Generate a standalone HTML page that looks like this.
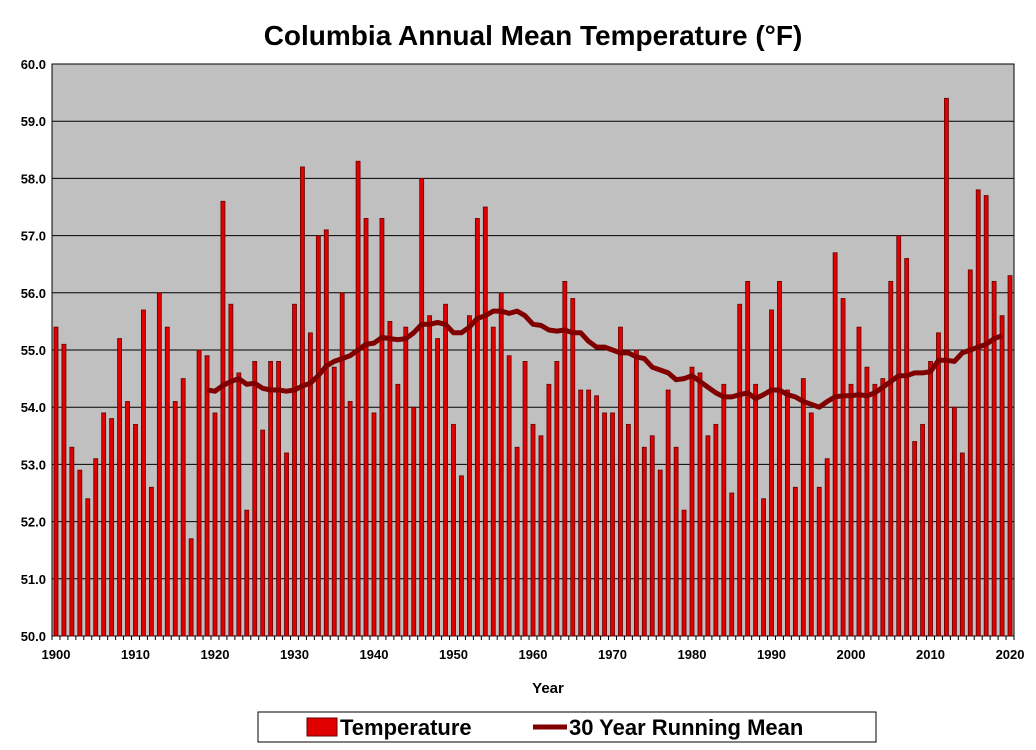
<!DOCTYPE html>
<html><head><meta charset="utf-8"><style>
html,body{margin:0;padding:0;background:#fff;width:1036px;height:750px;overflow:hidden}
svg{display:block;font-family:"Liberation Sans",Arial,sans-serif}
</style></head><body>
<svg id="chart" width="1036" height="750">
<text x="533" y="45" text-anchor="middle" font-size="28" font-weight="bold">Columbia Annual Mean Temperature (°F)</text>
<rect x="52" y="64" width="962" height="572" fill="#c0c0c0" stroke="#000" stroke-width="1"/>
<g id="grid"></g><g id="bars"></g><g id="line"></g><g id="axes"></g>
<text x="548" y="693" text-anchor="middle" font-size="15" font-weight="bold">Year</text>
<g>
<rect x="258" y="712" width="618" height="30" fill="#fff" stroke="#000"/>
<g>
<rect x="307" y="718" width="30" height="18" fill="#e00000" stroke="#600"/>
<text x="340" y="735" font-size="22" font-weight="bold">Temperature</text></g>
<g>
<line x1="533" y1="727" x2="567" y2="727" stroke="#800000" stroke-width="5"/>
<text x="569" y="735" font-size="22" font-weight="bold">30 Year Running Mean</text></g>
</g>
</svg>
<script>
const startYear = 1900;
const temps = [55.4,55.1,53.3,52.9,52.4,53.1,53.9,53.8,55.2,54.1,53.7,55.7,52.6,56.0,55.4,54.1,54.5,51.7,55.0,54.9,
53.9,57.6,55.8,54.6,52.2,54.8,53.6,54.8,54.8,53.2,55.8,58.2,55.3,57.0,57.1,54.7,56.0,54.1,58.3,57.3,
53.9,57.3,55.5,54.4,55.4,54.0,58.0,55.6,55.2,55.8,53.7,52.8,55.6,57.3,57.5,55.4,56.0,54.9,53.3,54.8,
53.7,53.5,54.4,54.8,56.2,55.9,54.3,54.3,54.2,53.9,53.9,55.4,53.7,55.0,53.3,53.5,52.9,54.3,53.3,52.2,
54.7,54.6,53.5,53.7,54.4,52.5,55.8,56.2,54.4,52.4,55.7,56.2,54.3,52.6,54.5,53.9,52.6,53.1,56.7,55.9,
54.4,55.4,54.7,54.4,54.5,56.2,57.0,56.6,53.4,53.7,54.8,55.3,59.4,54.0,53.2,56.4,57.8,57.7,56.2,55.6,56.3];
const meanStartYear = 1919;
const runningMean = [54.3,54.28,54.38,54.45,54.5,54.4,54.42,54.33,54.3,54.3,54.28,54.3,54.37,54.42,54.55,54.72,54.8,54.85,54.9,55.0,
55.1,55.12,55.22,55.2,55.18,55.2,55.3,55.45,55.45,55.48,55.45,55.3,55.3,55.4,55.55,55.6,55.68,55.68,55.64,55.68,
55.6,55.45,55.43,55.35,55.33,55.35,55.3,55.3,55.15,55.05,55.05,55.0,54.95,54.95,54.88,54.85,54.7,54.65,54.6,54.48,
54.5,54.55,54.45,54.35,54.25,54.18,54.18,54.22,54.25,54.15,54.22,54.3,54.3,54.22,54.18,54.1,54.05,54.0,54.1,54.18,
54.2,54.2,54.22,54.2,54.25,54.35,54.45,54.55,54.55,54.6,54.6,54.62,54.82,54.82,54.8,54.95,55.0,55.05,55.1,55.2,55.25];
const yTicks = [50,51,52,53,54,55,56,57,58,59,60];
const xLabels = [1900,1910,1920,1930,1940,1950,1960,1970,1980,1990,2000,2010,2020];

const NS='http://www.w3.org/2000/svg';
const X0=52,X1=1014,Y0=636,Y1=64,YMIN=50,YMAX=60,N=121;
const step=(X1-X0)/N;
const xc=yr=>X0+(yr-startYear+0.5)*step;
const y=v=>Y0-(v-YMIN)/(YMAX-YMIN)*(Y0-Y1);
function mk(tag,attrs,parent){const e=document.createElementNS(NS,tag);for(const k in attrs)e.setAttribute(k,attrs[k]);document.getElementById(parent).appendChild(e);return e;}

yTicks.forEach(t=>{
  if(t>YMIN&&t<YMAX){const g=mk('line',{x1:X0,x2:X1,y1:y(t),y2:y(t),stroke:'#000','stroke-width':1},'grid');
  
  }
  const l=mk('text',{x:46,y:y(t)+5,'text-anchor':'end','font-size':13,'font-weight':'bold'},'axes');
  l.textContent=t.toFixed(1);
  
  
});
temps.forEach((v,i)=>{
  const b=mk('rect',{x:xc(startYear+i)-2,y:y(v),width:4,height:Y0-y(v),fill:'#e00000',stroke:'#600','stroke-width':0.8},'bars');
  
  
});
const pts=runningMean.map((v,i)=>xc(meanStartYear+i).toFixed(1)+','+y(v).toFixed(1)).join(' ');
const pl=mk('polyline',{points:pts,fill:'none',stroke:'#800000','stroke-width':5,'stroke-linejoin':'round'},'line');


for(let i=0;i<=N;i++){
  const tk=mk('line',{x1:X0+i*step,x2:X0+i*step,y1:Y0,y2:Y0+4,stroke:'#000'},'axes');
  
  
}
xLabels.forEach(yr=>{
  const l=mk('text',{x:xc(yr),y:659,'text-anchor':'middle','font-size':13,'font-weight':'bold'},'axes');
  l.textContent=yr;
  
  
});
</script>
</body></html>
